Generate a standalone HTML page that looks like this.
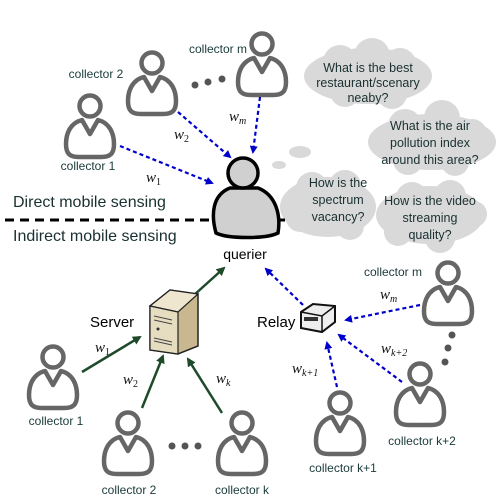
<!DOCTYPE html>
<html><head><style>body{margin:0;background:#fff}svg{display:block}</style></head><body>
<svg width="503" height="504" viewBox="0 0 503 504" xmlns="http://www.w3.org/2000/svg" font-family="Liberation Sans, sans-serif">
<defs>
<g id="p" fill="none" stroke="#666" stroke-width="4.5" stroke-linejoin="round">
<circle cx="0" cy="0" r="10.5"/>
<path d="M-8,14 C-20,17 -24,28 -24,38 C-24,48 -20,51 -11,51 L11,51 C20,51 24,48 24,38 C24,28 20,17 8,14 L0,28 Z"/>
</g>
<marker id="ab" markerWidth="8" markerHeight="8" refX="6" refY="4" orient="auto" markerUnits="userSpaceOnUse"><path d="M0,0 L8,4 L0,8 Z" fill="#0000cc"/></marker>
<marker id="ag" markerWidth="9" markerHeight="9" refX="7" refY="4.5" orient="auto" markerUnits="userSpaceOnUse"><path d="M0,0 L9,4.5 L0,9 Z" fill="#1e4a2a"/></marker>
</defs>
<!-- clouds -->
<g fill="#d9d9d9">
<ellipse cx="368" cy="76" rx="64" ry="28"/><circle cx="340" cy="62" r="17"/><circle cx="372" cy="56" r="18"/><circle cx="400" cy="64" r="16"/><circle cx="345" cy="92" r="15"/><circle cx="392" cy="94" r="15"/>
<ellipse cx="432" cy="142" rx="64" ry="28"/><circle cx="405" cy="126" r="17"/><circle cx="442" cy="118" r="18"/><circle cx="472" cy="134" r="15"/><circle cx="408" cy="160" r="15"/><circle cx="455" cy="162" r="14"/>
<ellipse cx="328" cy="207" rx="48" ry="30"/><circle cx="312" cy="188" r="16"/><circle cx="345" cy="186" r="16"/><circle cx="300" cy="218" r="14"/><circle cx="350" cy="226" r="14"/>
<ellipse cx="430" cy="215" rx="54" ry="29"/><circle cx="412" cy="198" r="16"/><circle cx="450" cy="196" r="16"/><circle cx="398" cy="232" r="14"/><circle cx="440" cy="238" r="15"/><circle cx="474" cy="214" r="13"/>
<ellipse cx="300" cy="152" rx="11" ry="6"/><ellipse cx="279" cy="165" rx="7" ry="4"/>
</g>
<g font-size="12.5" fill="#1a3030" text-anchor="middle">
<text x="368" y="72">What is the best</text><text x="368" y="87">restaurant/scenary</text><text x="368" y="102">neaby?</text>
<text x="430" y="130">What is the air</text><text x="430" y="147">pollution index</text><text x="430" y="164">around this area?</text>
<text x="338" y="187">How is the</text><text x="338" y="204">spectrum</text><text x="338" y="221">vacancy?</text>
<text x="430" y="205">How is the video</text><text x="430" y="222">streaming</text><text x="430" y="239">quality?</text>
</g>
<!-- people -->
<use href="#p" x="262" y="44"/><use href="#p" x="152" y="63"/><use href="#p" x="90" y="106"/>
<use href="#p" x="53" y="357"/><use href="#p" x="128" y="423"/><use href="#p" x="242" y="423"/>
<use href="#p" x="340" y="403"/><use href="#p" x="420" y="374"/><use href="#p" x="448" y="273"/>
<g fill="#555"><circle cx="195" cy="85" r="3.5"/><circle cx="208" cy="82" r="3.5"/><circle cx="222" cy="79" r="3.5"/>
<circle cx="172" cy="446" r="3.5"/><circle cx="185" cy="446" r="3.5"/><circle cx="198" cy="446" r="3.5"/>
<circle cx="452" cy="335" r="3.5"/><circle cx="448" cy="348" r="3.5"/><circle cx="445" cy="362" r="3.5"/></g>
<g font-size="12" fill="#1a3a3a" text-anchor="middle">
<text x="218" y="53">collector m</text><text x="96" y="78">collector 2</text><text x="88" y="170">collector 1</text>
<text x="56" y="425">collector 1</text><text x="129" y="494">collector 2</text><text x="242" y="494">collector k</text>
<text x="343" y="472">collector k+1</text><text x="422" y="445">collector k+2</text><text x="393" y="276">collector m</text>
</g>
<!-- querier -->
<path d="M216,233 C211,215 212,195 230,188 L258,188 C276,195 281,215 278,233 C266,239 228,239 216,233 Z" fill="#d0d0d0" stroke="#000" stroke-width="3.5"/>
<circle cx="243" cy="173" r="15" fill="#d0d0d0" stroke="#000" stroke-width="3.5"/>
<line x1="5" y1="220" x2="213" y2="220" stroke="#000" stroke-width="3" stroke-dasharray="9,6"/>
<line x1="278" y1="220" x2="285" y2="220" stroke="#000" stroke-width="3"/>
<text x="13" y="207" font-size="16" fill="#1a3030">Direct mobile sensing</text>
<text x="13" y="241" font-size="16" fill="#1a3030">Indirect mobile sensing</text>
<text x="245" y="259" font-size="14" fill="#000" text-anchor="middle">querier</text>
<!-- blue arrows -->
<g stroke="#0000cc" stroke-width="2.2" stroke-dasharray="4,3" fill="none" marker-end="url(#ab)">
<line x1="120" y1="146" x2="212" y2="183"/><line x1="178" y1="112" x2="230" y2="157"/><line x1="260" y1="97" x2="253" y2="152"/>
<line x1="303" y1="305" x2="266" y2="269"/><line x1="420" y1="305" x2="346" y2="320"/><line x1="402" y1="382" x2="339" y2="335"/><line x1="337" y1="387" x2="327" y2="343"/>
</g>
<!-- green arrows -->
<g stroke="#1e4a2a" stroke-width="2.5" fill="none" marker-end="url(#ag)">
<line x1="82" y1="372" x2="140" y2="337"/><line x1="142" y1="408" x2="163" y2="356"/><line x1="222" y1="413" x2="188" y2="359"/><line x1="183" y1="305" x2="224" y2="268"/>
</g>
<g font-family="Liberation Serif, serif" font-style="italic" font-size="15" fill="#111">
<text x="146" y="182">w<tspan font-size="10" dy="3" font-style="normal">1</tspan></text>
<text x="174" y="139">w<tspan font-size="10" dy="3" font-style="normal">2</tspan></text>
<text x="229" y="121">w<tspan font-size="10" dy="3">m</tspan></text>
<text x="95" y="352">w<tspan font-size="10" dy="3" font-style="normal">1</tspan></text>
<text x="123" y="384">w<tspan font-size="10" dy="3" font-style="normal">2</tspan></text>
<text x="216" y="383">w<tspan font-size="10" dy="3">k</tspan></text>
<text x="380" y="299">w<tspan font-size="10" dy="3">m</tspan></text>
<text x="381" y="353">w<tspan font-size="10" dy="3">k+2</tspan></text>
<text x="292" y="373">w<tspan font-size="10" dy="3">k+1</tspan></text>
</g>
<text x="90" y="327" font-size="15" fill="#000">Server</text>
<text x="257" y="327" font-size="15" fill="#000">Relay</text>
<!-- server -->
<path d="M150,306 L170,290 L198,294 L198,346 L178,354 L150,350 Z" fill="#c9b88f" stroke="#222" stroke-width="1.5"/>
<path d="M150,306 L178,312 L198,294 L170,290 Z" fill="#efe6cf" stroke="#222" stroke-width="1.2"/>
<path d="M150,306 L178,312 L178,354 L150,350 Z" fill="#e6dcc0" stroke="#222" stroke-width="1.2"/>
<g stroke="#444" stroke-width="1"><line x1="154" y1="316" x2="172" y2="320"/><line x1="154" y1="320" x2="172" y2="324"/><line x1="154" y1="338" x2="172" y2="342"/><line x1="154" y1="341" x2="172" y2="345"/></g>
<circle cx="158" cy="329" r="1.5" fill="#333"/>
<!-- relay -->
<path d="M301,312 L313,304 L335,306 L335,322 L322,332 L301,328 Z" fill="#eee" stroke="#111" stroke-width="2"/>
<path d="M301,312 L322,316 L335,306" fill="none" stroke="#111" stroke-width="1.5"/>
<line x1="322" y1="316" x2="322" y2="332" stroke="#111" stroke-width="1.5"/>
<rect x="304" y="317" width="14" height="4" fill="#333"/>
</svg>
</body></html>
